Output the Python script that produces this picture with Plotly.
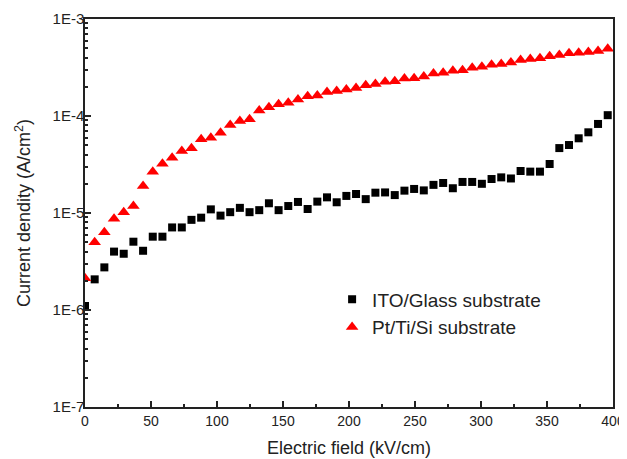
import plotly.graph_objects as go

# Electric field (kV/cm)
field = [0.0, 7.33, 14.67, 22.0, 29.33, 36.67, 44.0, 51.33, 58.67, 66.0, 73.33, 80.67, 88.0,
         95.33, 102.67, 110.0, 117.33, 124.67, 132.0, 139.33, 146.67, 154.0, 161.33, 168.67,
         176.0, 183.33, 190.67, 198.0, 205.33, 212.67, 220.0, 227.33, 234.67, 242.0, 249.33,
         256.67, 264.0, 271.33, 278.67, 286.0, 293.33, 300.67, 308.0, 315.33, 322.67, 330.0,
         337.33, 344.67, 352.0, 359.33, 366.67, 374.0, 381.33, 388.67, 396.0]

# ITO/Glass substrate (A/cm^2)
ito_glass = [1.1e-6, 2.07e-6, 2.75e-6, 4.0e-6, 3.8e-6, 5.06e-6, 4.08e-6, 5.7e-6, 5.7e-6, 7.1e-6,
             7.1e-6, 8.5e-6, 8.95e-6, 1.09e-5, 9.4e-6, 1.02e-5, 1.13e-5, 1.02e-5, 1.07e-5, 1.26e-5,
             1.07e-5, 1.18e-5, 1.30e-5, 1.10e-5, 1.31e-5, 1.45e-5, 1.29e-5, 1.50e-5, 1.57e-5, 1.39e-5,
             1.62e-5, 1.63e-5, 1.53e-5, 1.70e-5, 1.77e-5, 1.71e-5, 1.95e-5, 2.04e-5, 1.80e-5, 2.09e-5,
             2.09e-5, 2.0e-5, 2.24e-5, 2.33e-5, 2.27e-5, 2.71e-5, 2.67e-5, 2.67e-5, 3.2e-5, 4.67e-5,
             5.02e-5, 5.89e-5, 6.79e-5, 8.28e-5, 1.02e-4]

# Pt/Ti/Si substrate (A/cm^2)
pt_ti_si = [2.12e-6, 4.99e-6, 6.35e-6, 8.7e-6, 1.02e-5, 1.18e-5, 1.90e-5, 2.67e-5, 3.22e-5, 3.72e-5,
            4.36e-5, 4.64e-5, 5.75e-5, 5.97e-5, 6.73e-5, 8.07e-5, 8.87e-5, 9.24e-5, 1.14e-4, 1.23e-4,
            1.32e-4, 1.37e-4, 1.48e-4, 1.60e-4, 1.63e-4, 1.77e-4, 1.81e-4, 1.88e-4, 1.94e-4, 2.07e-4,
            2.14e-4, 2.26e-4, 2.28e-4, 2.43e-4, 2.45e-4, 2.55e-4, 2.75e-4, 2.8e-4, 2.93e-4, 2.97e-4,
            3.15e-4, 3.22e-4, 3.38e-4, 3.44e-4, 3.57e-4, 3.77e-4, 3.86e-4, 3.93e-4, 4.12e-4, 4.25e-4,
            4.43e-4, 4.5e-4, 4.57e-4, 4.68e-4, 4.94e-4]

y_major = [1e-7, 1e-6, 1e-5, 1e-4, 1e-3]
y_major_text = ["1E-7", "1E-6", "1E-5", "1E-4", "1E-3"]
y_minor = [m * d for d in [1e-7, 1e-6, 1e-5, 1e-4] for m in range(2, 10)]

x_major = [0, 50, 100, 150, 200, 250, 300, 350, 400]
x_minor = [25, 75, 125, 175, 225, 275, 325, 375]

FONT = "Arial, Liberation Sans, Helvetica, sans-serif"
AX = "#222222"
TXT = "#222222"

fig = go.Figure()
fig.add_trace(go.Scatter(x=field, y=ito_glass, mode="markers", name="ITO/Glass substrate",
                         marker=dict(symbol="square", size=8, color="black")))
fig.add_trace(go.Scatter(x=field, y=pt_ti_si, mode="markers", name="Pt/Ti/Si substrate",
                         marker=dict(symbol="triangle-up", size=11, color="#ff0000")))

fig.update_layout(
    width=627, height=459,
    margin=dict(l=77, r=22, t=11, b=60, autoexpand=False),
    paper_bgcolor="white", plot_bgcolor="white",
    font=dict(family=FONT, size=14, color=TXT),
    showlegend=True,
    legend=dict(x=0.468, y=0.241, xanchor="left", yanchor="middle",
                bgcolor="rgba(0,0,0,0)", font=dict(size=19, family=FONT, color=TXT),
                itemsizing="trace", tracegroupgap=0),
)
fig.update_xaxes(
    range=[0, 400], showgrid=False, zeroline=False, automargin=False,
    showline=True, linecolor=AX, linewidth=1.5, mirror=True,
    tickmode="array", tickvals=x_major, ticks="inside", ticklen=6, tickwidth=1.5, tickcolor=AX,
    minor=dict(tickmode="array", tickvals=x_minor, ticks="inside", ticklen=3, tickwidth=1.5, tickcolor=AX),
    tickfont=dict(size=14, family=FONT, color=TXT),
    title=dict(text="Electric field (kV/cm)", font=dict(size=18, family=FONT, color=TXT), standoff=14),
)
fig.update_yaxes(
    type="log", range=[-7, -3], showgrid=False, zeroline=False, automargin=False,
    showline=True, linecolor=AX, linewidth=1.5, mirror=True,
    tickmode="array", tickvals=y_major, ticktext=y_major_text,
    ticks="inside", ticklen=6, tickwidth=1.5, tickcolor=AX, ticklabelstandoff=-4,
    minor=dict(tickmode="array", tickvals=y_minor, ticks="inside", ticklen=3, tickwidth=1.5, tickcolor=AX),
    tickfont=dict(size=15, family=FONT, color=TXT),
    title=dict(text="Current dendity (A/cm<sup>2</sup>)", font=dict(size=18, family=FONT, color=TXT), standoff=17),
)

fig.write_html("out.html")
